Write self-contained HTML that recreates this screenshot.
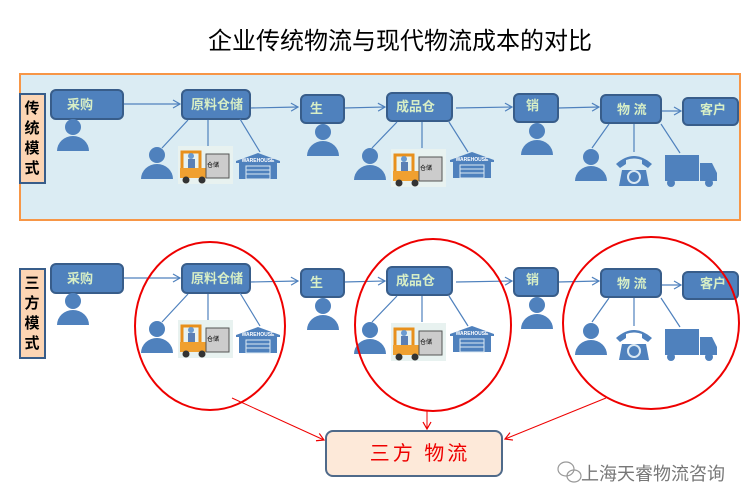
<!DOCTYPE html>
<html><head><meta charset="utf-8"><style>
html,body{margin:0;padding:0;background:#fff;}
svg{display:block;font-family:"Liberation Sans","Noto Sans CJK SC",sans-serif;}
.bx{fill:#4f81bd;stroke:#385d8a;stroke-width:2;}
.bt{fill:#d7eec6;font-weight:bold;font-size:13px;}
.ln{stroke:#4f81bd;stroke-width:1.2;fill:none;}
.ar{stroke:#4f81bd;stroke-width:1.2;fill:none;marker-end:url(#ab);}
.lb{font-size:15px;font-weight:bold;fill:#000;}
</style></head><body>
<svg width="749" height="504" viewBox="0 0 749 504">
<defs>
<marker id="ab" markerWidth="10" markerHeight="10" refX="8" refY="5" orient="auto" markerUnits="userSpaceOnUse"><path d="M1,1 L8,5 L1,9" fill="none" stroke="#4f81bd" stroke-width="1.2"/></marker>
<marker id="ar" markerWidth="10" markerHeight="10" refX="8" refY="5" orient="auto" markerUnits="userSpaceOnUse"><path d="M1,1 L8,5 L1,9" fill="none" stroke="#e00" stroke-width="1.2"/></marker>
<g id="person"><circle cx="0" cy="0" r="8" fill="#4f81bd"/><path d="M-16,24 A16,15 0 0 1 16,24 Z" fill="#4f81bd"/></g>
<g id="fork">
<rect x="0" y="0" width="55" height="38" fill="#e8f2f0"/>
<rect x="4" y="6" width="18" height="22" fill="none" stroke="#e8901c" stroke-width="3"/>
<rect x="2" y="22" width="26" height="10" fill="#f0a030"/>
<circle cx="8" cy="34" r="3.5" fill="#333"/><circle cx="24" cy="34" r="3.5" fill="#333"/>
<circle cx="13" cy="10" r="3" fill="#6a9ad0"/><rect x="10" y="13" width="7" height="9" fill="#5a7fb5"/>
<rect x="28" y="8" width="23" height="24" fill="#ccc" stroke="#555" stroke-width="1"/>
</g>
<g id="wh">
<path d="M0,8 L22,0 L44,8 L44,10 L0,10 Z" fill="#4f81bd"/>
<rect x="3" y="10" width="38" height="16" fill="#4f81bd"/>
<rect x="10" y="13" width="24" height="13" fill="#4f81bd" stroke="#dbe9f3" stroke-width="1"/>
<line x1="10" y1="17" x2="34" y2="17" stroke="#dbe9f3"/><line x1="10" y1="21" x2="34" y2="21" stroke="#dbe9f3"/>
<text x="22" y="9" font-size="5" fill="#fff" text-anchor="middle" font-weight="bold">WAREHOUSE</text>
</g>
<g id="phone">
<path d="M0,12 Q18,-4 36,12 L32,16 L26,12 L26,8 Q18,5 10,8 L10,12 L4,16 Z" fill="#4f81bd"/>
<path d="M6,18 L30,18 L33,34 L3,34 Z" fill="#4f81bd"/>
<circle cx="18" cy="25" r="6" fill="none" stroke="#dbe9f3" stroke-width="2"/>
</g>
<g id="truck">
<rect x="0" y="0" width="34" height="26" fill="#4f81bd"/>
<path d="M35,8 L47,8 L52,18 L52,26 L35,26 Z" fill="#4f81bd"/>
<circle cx="6" cy="28" r="4" fill="#4f81bd"/><circle cx="44" cy="28" r="4" fill="#4f81bd"/>
</g>
</defs>

<text x="400" y="49" font-size="24" text-anchor="middle" fill="#000">企业传统物流与现代物流成本的对比</text>

<rect x="20" y="74" width="720" height="146" fill="#dbecf3" stroke="#f79646" stroke-width="2"/>

<g id="row">
<path class="ar" d="M123,104 L180,104"/>
<path class="ar" d="M250,108 L298,107"/>
<path class="ar" d="M344,108 L385,107"/>
<path class="ar" d="M456,108 L512,107"/>
<path class="ar" d="M558,108 L599,107"/>
<path class="ar" d="M661,111 L681,111"/>
<rect class="bx" x="51" y="90" width="72" height="29" rx="5"/>
<rect class="bx" x="182" y="90" width="68" height="29" rx="5"/>
<rect class="bx" x="301" y="95" width="43" height="28" rx="5"/>
<rect class="bx" x="387" y="93" width="65" height="28" rx="5"/>
<rect class="bx" x="514" y="94" width="44" height="28" rx="5"/>
<rect class="bx" x="601" y="95" width="60" height="28" rx="5"/>
<rect class="bx" x="683" y="98" width="55" height="27" rx="5"/>
<path class="ln" d="M188,120 L162,148 M208,120 L208,146 M240,119 L260,152"/>
<path class="ln" d="M397,122 L372,148 M422,122 L422,148 M449,122 L468,152"/>
<path class="ln" d="M609,124 L592,148 M634,124 L634,152 M661,124 L680,153"/>
<use href="#person" x="73" y="127"/>
<use href="#person" x="157" y="155"/>
<use href="#person" x="323" y="132"/>
<use href="#person" x="370" y="156"/>
<use href="#person" x="537" y="131"/>
<use href="#person" x="591" y="157"/>
<use href="#fork" x="178" y="146"/>
<use href="#fork" x="391" y="149"/>
<use href="#wh" x="236" y="153"/>
<use href="#wh" x="450" y="152"/>
<use href="#phone" x="616" y="152"/>
<use href="#truck" x="665" y="155"/>
</g>
<g transform="translate(0,174)"><use href="#row"/></g>

<g class="bt">
<text x="67" y="109">采购</text><text x="191" y="109">原料仓储</text><text x="310" y="113">生</text>
<text x="396" y="111">成品仓</text><text x="526" y="110">销</text><text x="617" y="114">物 流</text><text x="700" y="114">客户</text>
</g>
<g class="bt" transform="translate(0,174)">
<text x="67" y="109">采购</text><text x="191" y="109">原料仓储</text><text x="310" y="113">生</text>
<text x="396" y="111">成品仓</text><text x="526" y="110">销</text><text x="617" y="114">物 流</text><text x="700" y="114">客户</text>
</g>
<g font-size="6" fill="#000">
<text x="207" y="167">仓储</text><text x="420" y="170">仓储</text>
<text x="207" y="341">仓储</text><text x="420" y="344">仓储</text>
</g>

<rect x="20" y="94" width="25" height="89" fill="#fcd5b4" stroke="#385d8a" stroke-width="2"/>
<g class="lb" text-anchor="middle"><text x="32" y="113">传</text><text x="32" y="133">统</text><text x="32" y="153">模</text><text x="32" y="173">式</text></g>
<rect x="20" y="269" width="25" height="89" fill="#fcd5b4" stroke="#385d8a" stroke-width="2"/>
<g class="lb" text-anchor="middle"><text x="32" y="288">三</text><text x="32" y="308">方</text><text x="32" y="328">模</text><text x="32" y="348">式</text></g>

<ellipse cx="210" cy="326" rx="75" ry="84" fill="none" stroke="#e00" stroke-width="2"/>
<ellipse cx="433" cy="325" rx="78" ry="86" fill="none" stroke="#e00" stroke-width="2"/>
<ellipse cx="651" cy="323" rx="88" ry="86" fill="none" stroke="#e00" stroke-width="2"/>
<path d="M232,398 L324,440" stroke="#e00" fill="none" marker-end="url(#ar)"/>
<path d="M427,411 L427,429" stroke="#e00" fill="none" marker-end="url(#ar)"/>
<path d="M606,398 L505,439" stroke="#e00" fill="none" marker-end="url(#ar)"/>

<rect x="326" y="431" width="176" height="45" rx="7" fill="#fde9d9" stroke="#4f6a8a" stroke-width="2"/>
<text x="420" y="460" font-size="20" fill="#e00" text-anchor="middle" letter-spacing="3">三方 物流</text>

<g fill="none" stroke="#999" stroke-width="1.2"><ellipse cx="566" cy="469" rx="8" ry="7"/><ellipse cx="574" cy="476" rx="7" ry="6"/></g>
<text x="581" y="480" font-size="18" fill="#777">上海天睿物流咨询</text>
</svg>
</body></html>
